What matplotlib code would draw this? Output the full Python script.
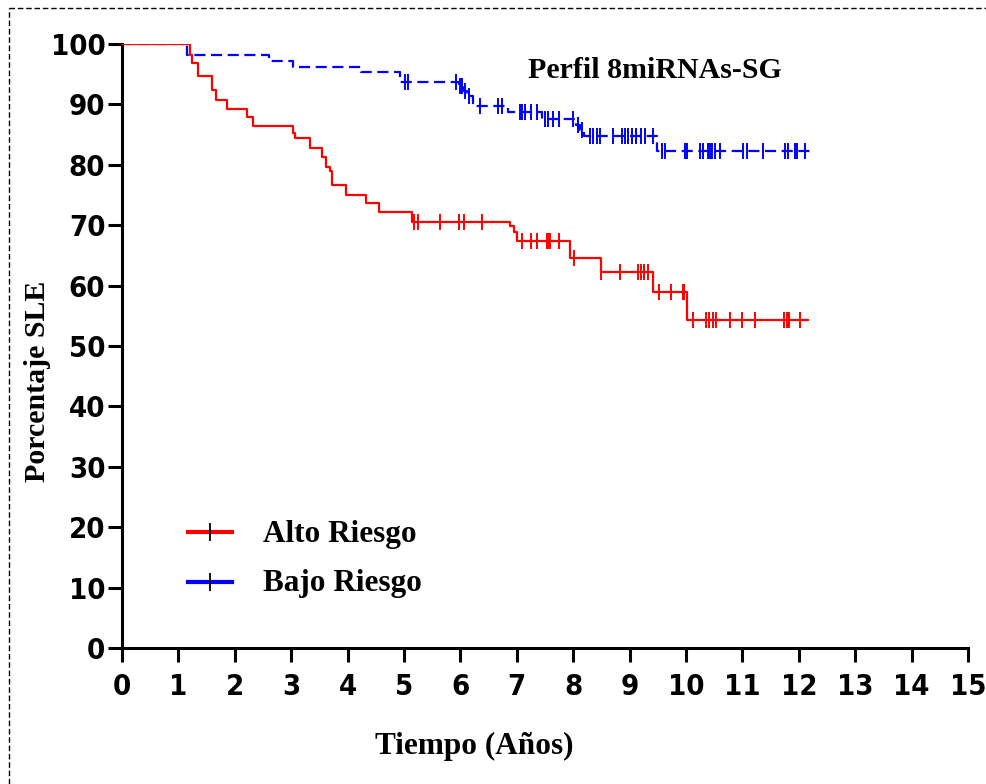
import matplotlib
matplotlib.use("Agg")

import matplotlib.pyplot as plt
import matplotlib.font_manager as fm
from matplotlib.lines import Line2D
import numpy as np

# Alto Riesgo: step times (years) and survival (%) after each drop
alto_t = [0, 1.21, 1.25, 1.34, 1.59, 1.67, 1.87, 2.21, 2.33, 3.03, 3.07, 3.33,
          3.54, 3.62, 3.69, 3.73, 3.97, 4.32, 4.56, 5.14, 6.88, 6.95, 7.00,
          7.94, 8.49, 9.42, 10.01]
alto_s = [100, 98.2, 96.8, 94.7, 92.4, 90.7, 89.2, 87.9, 86.4, 85.2, 84.4, 82.7,
          81.3, 79.7, 78.9, 76.7, 75.0, 73.6, 72.2, 70.6, 69.8, 68.9, 67.4,
          64.5, 62.2, 59.0, 54.3]
alto_cens = [5.17, 5.25, 5.63, 5.98, 6.07, 6.38, 7.09, 7.25, 7.35, 7.53, 7.56,
             7.59, 7.74, 8.01, 8.50, 8.83, 9.15, 9.20, 9.26, 9.32, 9.52, 9.73,
             9.94, 9.97, 10.13, 10.35, 10.41, 10.48, 10.54, 10.78, 11.00, 11.22,
             11.74, 11.79, 11.83, 12.03]
alto_end = 12.17

# Bajo Riesgo
bajo_t = [0, 1.16, 2.61, 3.03, 4.23, 4.93, 5.97, 6.05, 6.12, 6.22, 6.85, 7.44,
          8.05, 8.12, 8.20, 9.48]
bajo_s = [100, 98.2, 97.1, 96.2, 95.3, 93.7, 93.0, 92.2, 91.4, 89.8, 88.7, 87.5,
          86.6, 85.8, 84.7, 82.2]
bajo_cens = [5.02, 5.08, 5.92, 5.99, 6.03, 6.09, 6.16, 6.35, 6.67, 6.73, 7.06,
             7.10, 7.15, 7.26, 7.35, 7.50, 7.56, 7.65, 7.74, 8.00, 8.08, 8.15,
             8.30, 8.36, 8.42, 8.48, 8.71, 8.86, 8.92, 8.98, 9.05, 9.12, 9.20,
             9.27, 9.42, 9.57, 9.63, 9.98, 10.02, 10.25, 10.31, 10.39, 10.43,
             10.47, 10.51, 10.60, 11.02, 11.08, 11.37, 11.76, 11.81, 11.93,
             11.97, 12.11]
bajo_end = 12.26

x_ticks = list(range(0, 16))
y_ticks = list(range(0, 101, 10))

serif = ["Liberation Serif", "DejaVu Serif"]

# look for a narrow bold sans for the tick numbers, else plain Liberation Sans
tick_font = None
for f in fm.fontManager.ttflist:
    style_name = (f.name + " " + str(f.stretch)).lower()
    if ("narrow" in style_name or "condensed" in style_name) and f.weight in (700, "bold"):
        if "sans" in f.name.lower() and "mono" not in f.name.lower():
            tick_font = fm.FontProperties(fname=f.fname, size=21)
            break
if tick_font is None:
    tick_font = fm.FontProperties(family=["Liberation Sans", "DejaVu Sans"],
                                  weight="bold", size=20)

fig = plt.figure(figsize=(9.87, 7.84), dpi=100)
ax = fig.add_axes([0.1236, 0.1735, 0.8571, 0.7704])


def km_curve(ax, t, s, cens, end, color, ls):
    tt = np.array(t + [end])
    ss = np.array(s + [s[-1]])
    ax.step(tt, ss, where="post", color=color, lw=1.6, linestyle=ls, zorder=3)
    idx = np.searchsorted(np.array(t), np.array(cens), side="right") - 1
    ax.plot(cens, np.array(s)[idx], linestyle="none", marker="|",
            markersize=12, mew=1.4, color=color, zorder=4)


km_curve(ax, bajo_t, bajo_s, bajo_cens, bajo_end, "#0000ff", (0, (5, 2.5)))
km_curve(ax, alto_t, alto_s, alto_cens, alto_end, "#ff0000", "-")

ax.set_xlim(0, 15)
ax.set_ylim(0, 100)
ax.set_xticks(x_ticks)
ax.set_yticks(y_ticks)
for side in ("top", "right"):
    ax.spines[side].set_visible(False)
for side in ("left", "bottom"):
    ax.spines[side].set_linewidth(2.2)
ax.tick_params(axis="both", direction="out", length=10, width=2.2)
ax.tick_params(axis="y", pad=2)
ax.tick_params(axis="x", pad=8)
for lab in ax.get_xticklabels() + ax.get_yticklabels():
    lab.set_fontproperties(tick_font)

# legend drawn by hand
for yy, col, name in [(0.192, "#ff0000", "Alto Riesgo"),
                      (0.110, "#0000ff", "Bajo Riesgo")]:
    ax.plot([0.078, 0.130], [yy, yy], color=col, lw=3, transform=ax.transAxes)
    ax.plot([0.104], [yy], marker="|", markersize=13, mew=1.3, color="black",
            transform=ax.transAxes)
    ax.text(0.1667, yy - 0.004, name, transform=ax.transAxes, va="center",
            ha="left", family=serif, fontweight="bold", fontsize=22.5)

fig.text(0.6636, 0.9107, "Perfil 8miRNAs-SG", ha="center", va="center",
         family=serif, fontweight="bold", fontsize=21.5)
fig.text(0.0375, 0.514, "Porcentaje SLE", rotation=90, ha="center",
         va="center", family=serif, fontweight="bold", fontsize=21.5)
fig.text(0.480, 0.0485, "Tiempo (Años)", ha="center", va="center",
         family=serif, fontweight="bold", fontsize=22.5)

# dashed frame (top and left only visible)
fig.add_artist(Line2D([9 / 987, 1.0], [1 - 8 / 784, 1 - 8 / 784], color="black",
                      lw=1, linestyle=(0, (4, 2)), transform=fig.transFigure))
fig.add_artist(Line2D([9 / 987, 9 / 987], [0, 1 - 8 / 784], color="black",
                      lw=1, linestyle=(0, (4, 2)), transform=fig.transFigure))

fig.savefig("out.png", dpi=100)
plt.close(fig)
